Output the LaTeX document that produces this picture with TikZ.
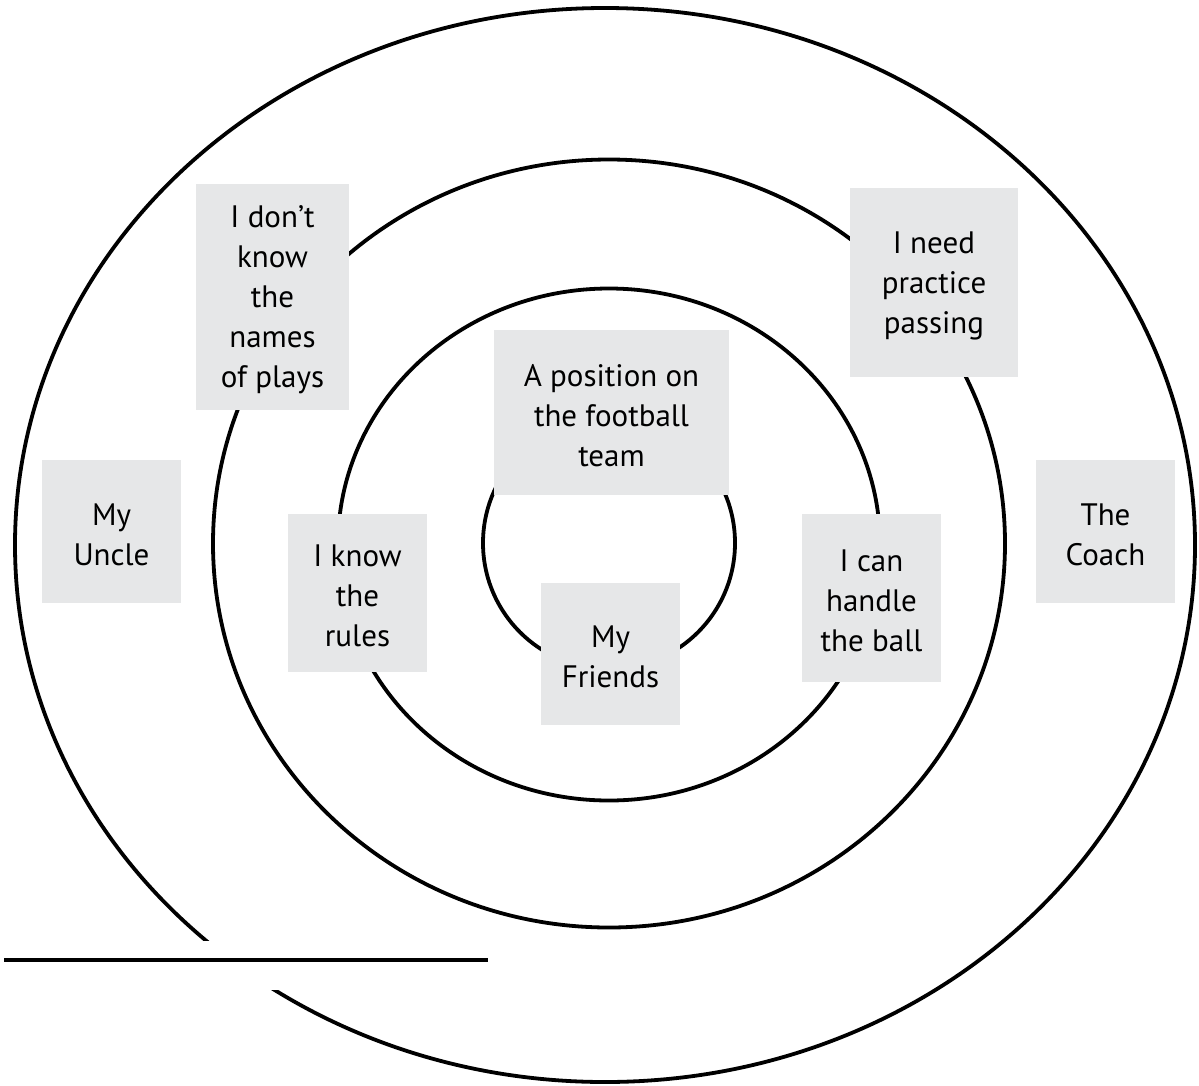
\documentclass[tikz,border=0pt]{standalone}
\usepackage{fontspec}
\setmainfont{PT Sans}
\usepackage{tikz}
\definecolor{cardgray}{RGB}{230,231,232}

\begin{document}
\begin{tikzpicture}[x=1pt, y=-1pt,
        ring/.style={draw=black, line width=3.8pt},
        cardnode/.style={rectangle, fill=cardgray, inner sep=0pt, align=center, font=\fontsize{31}{40}\selectfont}]
        \useasboundingbox (0,0) rectangle (1199,1085);

        % target rings
        \draw[ring] (609,543) circle [radius=126];
        \draw[ring] (609,544.5) ellipse [x radius=271, y radius=256];
        \draw[ring] (609,543.5) ellipse [x radius=396, y radius=384];
        \draw[ring] (605,545) ellipse [x radius=590, y radius=537];

        % blank line across the outer ring
        \fill[white] (0,941) rectangle (495,990);
        \coordinate (lineL) at (4,960);
        \coordinate (lineR) at (488,960);
        \draw[line width=4pt] (lineL) -- (lineR);

        \node[cardnode, minimum width=153pt, minimum height=226pt] (plays) at (272.5,297) {\strut I don’t\\know\\the\\names\\of plays};
        \node[cardnode, minimum width=168pt, minimum height=189pt] (passing) at (934,282.5) {\strut I need\\practice\\passing};
        \node[cardnode, minimum width=235pt, minimum height=165pt] (team) at (611.5,412.5) {\strut A position on\\the football\\team};
        \node[cardnode, minimum width=139pt, minimum height=142pt] (friends) at (610.5,654) {\strut My\\Friends};
        \node[cardnode, minimum width=139pt, minimum height=143pt] (uncle) at (111.5,531.5) {\strut My\\Uncle};
        \node[cardnode, minimum width=139pt, minimum height=158pt] (rules) at (357.5,593) {\strut I know\\the\\rules};
        \node[cardnode, minimum width=139pt, minimum height=168pt] (ball) at (871.5,598) {\strut I can\\handle\\the ball};
        \node[cardnode, minimum width=139pt, minimum height=143pt] (coach) at (1105.5,531.5) {\strut The\\Coach};

\end{tikzpicture}
\end{document}
